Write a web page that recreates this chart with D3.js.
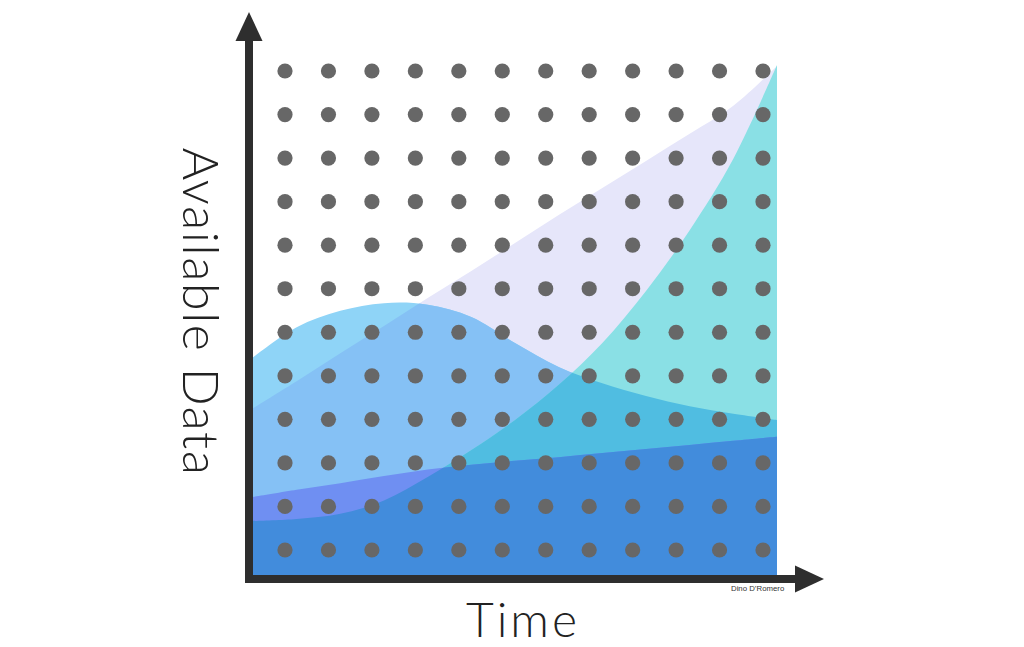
<!DOCTYPE html>
<html>
<head>
<meta charset="utf-8">
<script src="https://cdn.jsdelivr.net/npm/d3@7"></script>
<style>
  html, body { margin: 0; padding: 0; background: #fff; }
  svg { display: block; }
</style>
</head>
<body>
<div id="chart"></div>
<script>
// Sample positions along the time axis (0 = left edge, 12 = right edge)
const timeSteps = [0, 1, 2, 3, 4, 5, 6, 7, 8, 9, 10, 11, 12];

// Series values, in % of the vertical extent
const linearGrowth = [32.7, 38.0, 43.5, 48.8, 54.3, 59.6, 65.1, 70.6, 75.9, 81.2, 86.5, 92.0, 99.8];
const hypeHump     = [42.7, 48.6, 51.8, 53.3, 53.0, 50.6, 45.5, 40.8, 37.6, 35.1, 33.1, 31.6, 30.4];
const exponential  = [10.6, 11.0, 12.0, 14.6, 19.2, 24.5, 30.4, 37.3, 45.5, 55.7, 67.6, 81.6, 100];
const steadyBase   = [15.3, 16.7, 18.0, 19.4, 20.7, 21.6, 22.4, 23.1, 23.9, 24.7, 25.5, 26.3, 27.1];

// Background dot grid
const dotCols = d3.range(12);
const dotRows = d3.range(12);

const width = 1024;
const height = 647;

const svg = d3.select("#chart")
    .append("svg")
    .attr("width", width)
    .attr("height", height);

// Scales
const x = d3.scaleLinear().domain([0, 12]).range([253, 777]);
const y = d3.scaleLinear().domain([0, 100]).range([575, 65]);
const dotX = d3.scalePoint().domain(dotCols).range([285, 763]);
const dotY = d3.scalePoint().domain(dotRows).range([71, 550]);

const areaOf = values => d3.area()
    .x(d => x(d))
    .y0(y(0))
    .y1((d, i) => y(values[i]))
    .curve(d3.curveCatmullRom.alpha(0.5))(timeSteps);

// clip paths for the overlaps
const defs = svg.append("defs");
[["clipL", linearGrowth], ["clipH", hypeHump], ["clipE", exponential]].forEach(([id, vals]) => {
    defs.append("clipPath").attr("id", id)
        .append("path").attr("d", areaOf(vals));
});

const layers = svg.append("g");

layers.append("path").attr("d", areaOf(linearGrowth)).attr("fill", "#e6e6fa");
layers.append("path").attr("d", areaOf(hypeHump)).attr("fill", "#8fd4f7");
layers.append("path").attr("d", areaOf(hypeHump)).attr("fill", "#85c1f5")
    .attr("clip-path", "url(#clipL)");
layers.append("path").attr("d", areaOf(exponential)).attr("fill", "#8ae0e5");
layers.append("path").attr("d", areaOf(exponential)).attr("fill", "#50bde1")
    .attr("clip-path", "url(#clipH)");
layers.append("path").attr("d", areaOf(steadyBase)).attr("fill", "#6f8ff2");
layers.append("path").attr("d", areaOf(steadyBase)).attr("fill", "#428cdc")
    .attr("clip-path", "url(#clipE)");

// Dot grid
const grid = [];
dotRows.forEach(r => dotCols.forEach(c => grid.push({ r, c })));
svg.append("g")
    .selectAll("circle")
    .data(grid)
    .enter()
    .append("circle")
    .attr("cx", d => dotX(d.c))
    .attr("cy", d => dotY(d.r))
    .attr("r", 7.6)
    .attr("fill", "#676767");

// Axes with arrow heads
const axisColor = "#2e2e2e";
svg.append("rect").attr("x", 245).attr("y", 40).attr("width", 8).attr("height", 543).attr("fill", axisColor);
svg.append("rect").attr("x", 245).attr("y", 575).attr("width", 551).attr("height", 8).attr("fill", axisColor);
svg.append("path").attr("d", "M249,12 L262.5,41 L235.5,41 Z").attr("fill", axisColor);
svg.append("path").attr("d", "M824,579 L795,565.5 L795,592.5 Z").attr("fill", axisColor);

// Labels
svg.append("text")
    .attr("x", 523)
    .attr("y", 637)
    .attr("text-anchor", "middle")
    .style("font-family", "Lato, 'Open Sans', sans-serif")
    .style("font-weight", 300)
    .style("font-size", "48px")
    .style("letter-spacing", "3px")
    .style("fill", "#222")
    .text("Time");

svg.append("text")
    .attr("transform", "translate(183, 312) rotate(90)")
    .attr("text-anchor", "middle")
    .style("font-family", "Lato, 'Open Sans', sans-serif")
    .style("font-weight", 300)
    .style("font-size", "50px")
    .style("letter-spacing", "1.6px")
    .style("fill", "#222")
    .text("Available Data");

svg.append("text")
    .attr("x", 731)
    .attr("y", 591)
    .style("font-family", "'Liberation Sans', Arial, sans-serif")
    .style("font-size", "7.8px")
    .style("fill", "#333")
    .text("Dino D\u2019Romero");
</script>
</body>
</html>
